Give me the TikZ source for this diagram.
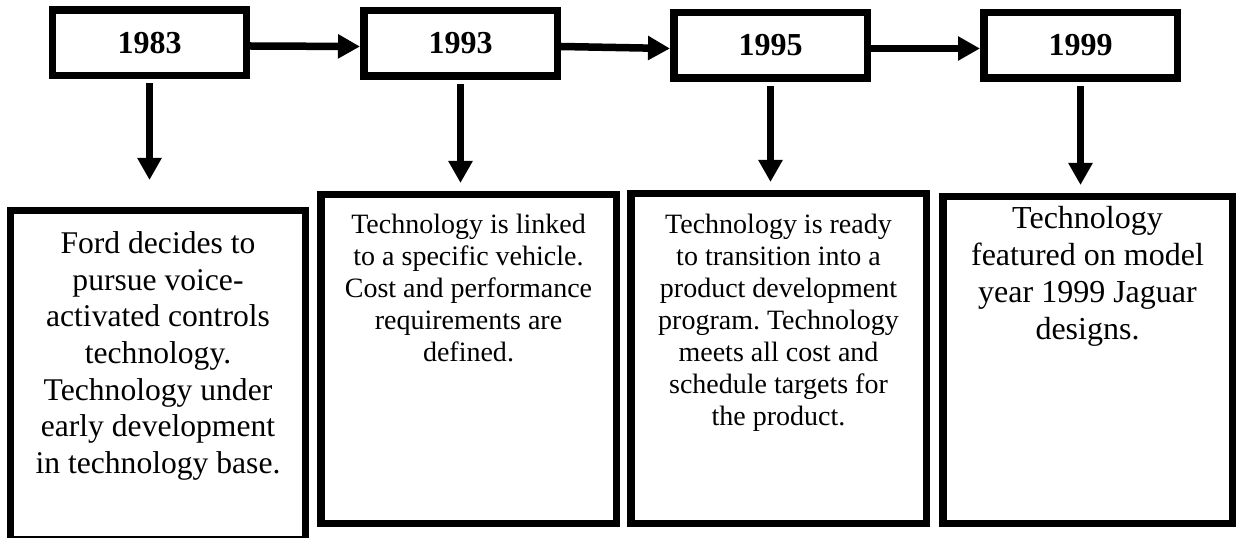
\documentclass[tikz,border=0pt]{standalone}
\usepackage{fontspec}
\setmainfont{Liberation Serif}
\frenchspacing
\usetikzlibrary{arrows.meta,positioning}
\begin{document}
\begin{tikzpicture}[x=0.5bp,y=-0.5bp,
  yearbox/.style={draw,line width=3.75bp,minimum width=96.75bp,minimum height=32.75bp,inner sep=0pt,font=\fontsize{16bp}{19bp}\selectfont\bfseries},
  textbox/.style={draw,line width=3.75bp,inner sep=0pt},
  boxtext/.style={align=center,inner sep=0pt},
  arr/.style={line width=3.75bp,-{Triangle[length=11bp,width=11.5bp]}}]
\useasboundingbox (0,0) rectangle (1237,538);
\node[yearbox] (y1) at (149.5,43) {1983};
\node[yearbox] (y2) at (460.5,43.5) {1993};
\node[yearbox] (y3) at (770.5,45.5) {1995};
\node[yearbox] (y4) at (1080.5,45.5) {1999};
\node[textbox,minimum width=147.25bp,minimum height=164.5bp] (b1) at (158,375.25) {};
\node[textbox,minimum width=147.75bp,minimum height=164.25bp] (b2) at (468.5,359) {};
\node[textbox,minimum width=147.75bp,minimum height=164.75bp] (b3) at (778.5,358.5) {};
\node[textbox,minimum width=144.75bp,minimum height=163.25bp] (b4) at (1087.5,360) {};
\node[boxtext,font=\fontsize{15.8bp}{18.35bp}\selectfont,below=12bp of b1.north] (t1) {Ford decides to\\pursue voice-\\activated controls\\technology.\\Technology under\\early development\\in technology base.};
\node[boxtext,font=\fontsize{14bp}{16bp}\selectfont,below=11.35bp of b2.north] (t2) {Technology is linked\\to a specific vehicle.\\Cost and performance\\requirements are\\defined.};
\node[boxtext,font=\fontsize{14bp}{16bp}\selectfont,below=12bp of b3.north] (t3) {Technology is ready\\to transition into a\\product development\\program. Technology\\meets all cost and\\schedule targets for\\the product.};
\node[boxtext,font=\fontsize{16bp}{18.5bp}\selectfont,below=6.5bp of b4.north] (t4) {Technology\\featured on model\\year 1999 Jaguar\\designs.};
\draw[arr] ([yshift=-1.5bp]y1.east) -- ([yshift=-1.5bp]y2.west);
\draw[arr] ([yshift=-1.5bp]y2.east) -- ([yshift=-1.5bp]y3.west);
\draw[arr] ([yshift=-1.5bp]y3.east) -- ([yshift=-1.5bp]y4.west);
\draw[arr,shorten <=2bp,shorten >=13.5bp] (y1.south) -- (y1.south |- b1.north);
\draw[arr,shorten <=2bp,shorten >=4bp] (y2.south) -- (y2.south |- b2.north);
\draw[arr,shorten <=2bp,shorten >=4bp] (y3.south) -- (y3.south |- b3.north);
\draw[arr,shorten <=2bp,shorten >=4bp] (y4.south) -- (y4.south |- b4.north);
\end{tikzpicture}
\end{document}
